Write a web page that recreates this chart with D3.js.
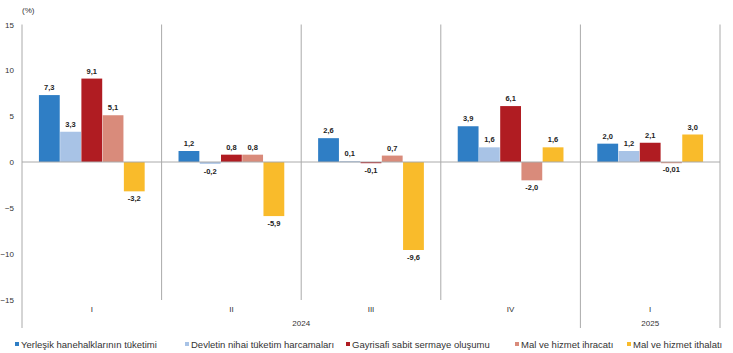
<!DOCTYPE html>
<html><head><meta charset="utf-8">
<script src="https://cdn.jsdelivr.net/npm/d3@7"></script>
<style>body{margin:0;background:#fff;}svg{display:block;font-family:"Liberation Sans",Arial,sans-serif;}</style>
</head><body><svg id="c" width="733" height="353"></svg>
<script>
const quarters = ["I","II","III","IV","I"];
const years = [{label:"2024", from:0, to:3},{label:"2025", from:4, to:4}];
const seriesNames = ["Yerleşik hanehalklarının tüketimi","Devletin nihai tüketim harcamaları","Gayrisafi sabit sermaye oluşumu","Mal ve hizmet ihracatı","Mal ve hizmet ithalatı"];
const colors = ["#2f7ec5","#a8c3e6","#b01c22","#d98b7b","#f9bb2b"];
const values = [
  [7.3, 1.2, 2.6, 3.9, 2.0],
  [3.3, -0.2, 0.1, 1.6, 1.2],
  [9.1, 0.8, -0.1, 6.1, 2.1],
  [5.1, 0.8, 0.7, -2.0, -0.01],
  [-3.2, -5.9, -9.6, 1.6, 3.0]
];
const labels = [
  ["7,3","1,2","2,6","3,9","2,0"],
  ["3,3","-0,2","0,1","1,6","1,2"],
  ["9,1","0,8","-0,1","6,1","2,1"],
  ["5,1","0,8","0,7","-2,0","-0,01"],
  ["-3,2","-5,9","-9,6","1,6","3,0"]
];
const yTicks = [15,10,5,0,-5,-10,-15];

const svg = d3.select("#c");
const L = 22, R = 720;
const y = d3.scaleLinear().domain([-15,15]).range([299.5,24.5]);
const x0 = d3.scaleBand().domain(d3.range(quarters.length)).range([L,R]).paddingInner(0).paddingOuter(0);
const x1 = d3.scaleBand().domain(d3.range(seriesNames.length)).range([16.5, x0.bandwidth()-16.5]).padding(0.02);

// y axis
const yAxis = d3.axisLeft(y).tickValues(yTicks).tickSize(0).tickPadding(8).tickFormat(d3.format("d"));
const ga = svg.append("g").attr("transform",`translate(${L},0)`).call(yAxis);
ga.select(".domain").remove();
ga.selectAll("text").attr("font-size",8).attr("fill","#333").attr("font-family","Liberation Sans, Arial, sans-serif");
svg.append("line").attr("x1",L).attr("x2",L).attr("y1",y(15)).attr("y2",328).attr("stroke","#aaa").attr("stroke-width",1);
svg.append("text").attr("x",22).attr("y",13).attr("font-size",8).attr("fill","#333").text("(%)");

// separators
quarters.forEach((q,i)=>{
  const xe = x0(i)+x0.bandwidth();
  const yearEnd = years.some(yy=>yy.to===i);
  svg.append("line").attr("x1",xe).attr("x2",xe).attr("y1",y(15)).attr("y2",yearEnd?328:300)
    .attr("stroke","#aaa").attr("stroke-width",1);
});

// bars
quarters.forEach((q,i)=>{
  const g = svg.append("g").attr("transform",`translate(${x0(i)},0)`);
  seriesNames.forEach((s,j)=>{
    const v = values[j][i];
    const top = y(Math.max(0,v)), bot = y(Math.min(0,v));
    g.append("rect").attr("x",x1(j)).attr("width",x1.bandwidth())
      .attr("y",top).attr("height",Math.max(bot-top,1.2)).attr("fill",colors[j]);
    const cx = x1(j)+x1.bandwidth()/2;
    g.append("text").attr("x",cx).attr("y", v>=0 ? top-5 : bot+10)
      .attr("text-anchor","middle").attr("font-size",7.5).attr("font-weight","bold").attr("fill","#222")
      .text(labels[j][i]);
  });
  svg.append("text").attr("x",x0(i)+x0.bandwidth()/2).attr("y",312).attr("text-anchor","middle")
    .attr("font-size",8).attr("fill","#333").text(q);
});
// zero line
svg.append("line").attr("x1",L).attr("x2",R).attr("y1",y(0)).attr("y2",y(0)).attr("stroke","#aaa").attr("stroke-width",1);

// year labels
years.forEach(yy=>{
  const xa = x0(yy.from), xb = x0(yy.to)+x0.bandwidth();
  svg.append("text").attr("x",(xa+xb)/2).attr("y",326).attr("text-anchor","middle")
    .attr("font-size",8).attr("fill","#333").text(yy.label);
});

// legend
const legX = [15,185,346,515,627];
seriesNames.forEach((s,j)=>{
  svg.append("rect").attr("x",legX[j]).attr("y",342).attr("width",4).attr("height",4).attr("fill",colors[j]);
  svg.append("text").attr("x",legX[j]+6).attr("y",347.5).attr("font-size",9.5).attr("fill","#333").text(s);
});
</script></body></html>
